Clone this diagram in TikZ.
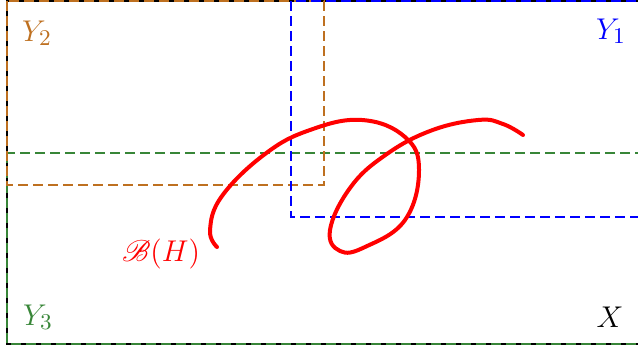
\documentclass[tikz,border=0pt]{standalone}
\usepackage{mathrsfs}
\definecolor{ybrown}{RGB}{190,112,32}
\definecolor{ygreen}{RGB}{56,134,56}
\begin{document}
\begin{tikzpicture}[x=0.4pt,y=-0.4pt,
  region/.style={dashed, dash pattern=on 4pt off 2pt, line width=0.8pt},
  lbl/.style={inner sep=0pt, font=\fontsize{13pt}{15pt}\selectfont}]
\useasboundingbox (0,0) rectangle (638,347);
% X
\draw[black, line width=0.8pt] (7,1) rectangle (645,344);
% Y3 (green)
\draw[region, ygreen] (7,153) rectangle (645,344);
% Y2 (brown)
\draw[region, ybrown] (7,1) rectangle (324,185);
% Y1 (blue)
\draw[region, blue] (291,1) rectangle (645,217);
% curve B(H)
\draw[red, line width=1.6pt, line cap=round] plot[smooth, tension=0.7] coordinates {
 (217,247) (210,230) (222,196) (265,154) (310,130) (362,120)
 (405,137) (419,170) (405,220) (365,247) (340,251)
 (330,230) (350,188) (384,156) (430,131) (478,120)
 (503,124) (523,135)};
% labels
\node[lbl, text=ybrown] (y2) at (37,33) {$Y_2$};
\node[lbl, text=blue] (y1) at (611,31) {$Y_1$};
\node[lbl, text=ygreen] (y3) at (38,317) {$Y_3$};
\node[lbl, text=black] (x) at (610,317) {$X$};
\node[lbl, text=red] (bh) at (161,254) {$\mathscr{B}(H)$};
\end{tikzpicture}
\end{document}
